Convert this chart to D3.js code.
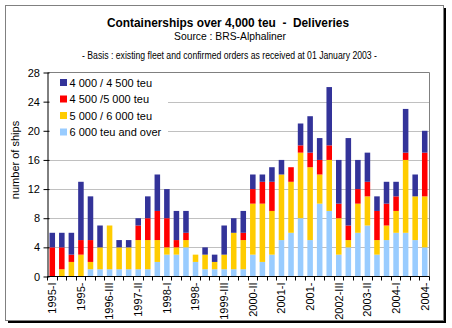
<!DOCTYPE html>
<html><head><meta charset="utf-8">
<script src="https://cdn.jsdelivr.net/npm/d3@7/dist/d3.min.js"></script>
<style>body{margin:0;background:#fff}svg{display:block;font-family:Arial,"Liberation Sans",sans-serif}text{white-space:pre}</style>
</head><body><svg id="c" width="452" height="328"></svg>
<script>
const categories = ["1995-I","1995-II","1995-III","1995-IV","1996-I","1996-II","1996-III","1996-IV",
"1997-I","1997-II","1997-III","1997-IV","1998-I","1998-II","1998-III","1998-IV",
"1999-I","1999-II","1999-III","1999-IV","2000-I","2000-II","2000-III","2000-IV",
"2001-I","2001-II","2001-III","2001-IV","2002-I","2002-II","2002-III","2002-IV",
"2003-I","2003-II","2003-III","2003-IV","2004-I","2004-II","2004-III","2004-IV"];
const tickCategories = ["1995-I","1995-IV","1996-III","1997-II","1998-I","1998-IV","1999-III","2000-II","2001-I","2001-IV","2002-III","2003-II","2004-I","2004-IV"];
const tickLabels = ["1995-I","1995-","1996-III","1997-II","1998-I","1998-","1999-III","2000-II","2001-I","2001-","2002-III","2003-II","2004-I","2004-"];
const seriesNames = ["6 000 teu and over","5 000 / 6 000 teu","4 500 /5 000 teu","4 000 / 4 500 teu"];
const over6000 = [0,0,0,0,1,1,1,1,1,1,1,2,3,3,4,2,1,1,1,1,1,3,2,3,5,6,8,5,10,9,3,4,6,7,3,5,6,6,5,4];
const s5000_6000 = [0,1,2,3,1,3,6,3,3,4,4,3,1,1,1,1,2,1,2,5,4,7,8,6,9,7,9,10,4,7,5,1,4,4,2,2,3,10,6,7];
const s4500_5000 = [4,3,1,2,3,0,0,0,0,2,3,4,4,1,1,0,0,0,0,0,1,2,3,4,0,2,1,2,2,2,2,2,2,2,4,3,2,1,0,6];
const s4000_4500 = [2,2,3,8,6,3,0,1,1,1,3,5,4,4,3,0,1,1,4,2,3,2,1,2,2,0,3,5,3,8,6,12,4,4,2,3,2,6,3,3];
const yTicks = [0,4,8,12,16,20,24,28];
const colors = ["#99CCFF","#FFCC00","#FF0000","#333399"];

const svg = d3.select("#c");
svg.append("rect").attr("x",8).attr("y",8).attr("width",438).attr("height",315).attr("fill","#000");
svg.append("rect").attr("x",5.5).attr("y",5.5).attr("width",438).attr("height",315).attr("fill","#fff").attr("stroke","#808080");

const L=47.5, R=429.5, T=72.5, B=276.5;
const x = d3.scaleBand().domain(categories).range([L,R]).padding(0);
const y = d3.scaleLinear().domain([0,28]).range([B,T]);

svg.append("g").selectAll("line").data(yTicks.filter(v=>v>0&&v<28)).join("line")
  .attr("x1",L).attr("x2",R).attr("y1",d=>Math.round(y(d))+0.5).attr("y2",d=>Math.round(y(d))+0.5)
  .attr("stroke","#C0C0C0");
svg.append("path").attr("d",`M${L},${T}H${R}V${B}`).attr("fill","none").attr("stroke","#808080");

const table = categories.map((c,i)=>({cat:c, s0:over6000[i], s1:s5000_6000[i], s2:s4500_5000[i], s3:s4000_4500[i]}));
const stack = d3.stack().keys(["s0","s1","s2","s3"])(table);
const bw = x.bandwidth()*0.58, off = x.bandwidth()*0.21;
svg.append("g").selectAll("g").data(stack).join("g").attr("fill",(d,i)=>colors[i])
  .selectAll("rect").data(d=>d).join("rect")
  .attr("x",d=>x(d.data.cat)+off).attr("width",bw)
  .attr("y",d=>y(d[1])).attr("height",d=>y(d[0])-y(d[1]));

svg.append("rect").attr("x",L+0.5).attr("y",T+0.5).attr("width",120).attr("height",69).attr("fill","#fff");
const legOrder = [3,2,1,0];
const lg = svg.append("g").selectAll("g").data(legOrder).join("g")
  .attr("transform",(d,i)=>`translate(60,${79+i*16.5})`);
lg.append("rect").attr("width",7).attr("height",7).attr("fill",d=>colors[d]);
lg.append("text").attr("x",9.5).attr("y",7.5).attr("font-size",11).text(d=>seriesNames[d]);

const ya = d3.axisLeft(y).tickValues(yTicks).tickSize(4).tickSizeOuter(0).tickPadding(4);
const gy = svg.append("g").attr("transform",`translate(${L},0)`).call(ya);
gy.select(".domain").attr("stroke","#000");
gy.selectAll(".tick line").attr("x2",2).attr("x1",-4).attr("stroke","#000");
gy.selectAll("text").attr("font-size",11).attr("font-family",'Arial,"Liberation Sans",sans-serif').attr("fill","#000").attr("x",-7.5);

const bounds = categories.map(c=>x(c)).concat([R]);
svg.append("g").selectAll("line").data(bounds).join("line")
  .attr("x1",d=>Math.round(d-0.5)+0.5).attr("x2",d=>Math.round(d-0.5)+0.5).attr("y1",B).attr("y2",B+4).attr("stroke","#000");
svg.append("line").attr("x1",L).attr("x2",R).attr("y1",B).attr("y2",B).attr("stroke","#000");
const xa = d3.axisBottom(x).tickValues(tickCategories).tickSize(0).tickFormat(d=>tickLabels[tickCategories.indexOf(d)]);
const gx = svg.append("g").attr("transform",`translate(0,${B})`).call(xa);
gx.select(".domain").remove();
gx.selectAll("text").attr("font-size",11).attr("font-family",'Arial,"Liberation Sans",sans-serif').attr("fill","#000")
  .attr("transform","rotate(-90)").attr("text-anchor","end").attr("x",-6).attr("y",0).attr("dy","0.35em");

svg.append("text").attr("x",228).attr("y",27).attr("text-anchor","middle").attr("font-size",13).attr("font-weight","bold")
  .attr("textLength",242).attr("lengthAdjust","spacingAndGlyphs").text("Containerships over 4,000 teu  -  Deliveries");
svg.append("text").attr("x",230).attr("y",40).attr("text-anchor","middle").attr("font-size",11)
  .attr("textLength",112).attr("lengthAdjust","spacingAndGlyphs").text("Source : BRS-Alphaliner");
svg.append("text").attr("x",229.5).attr("y",59).attr("text-anchor","middle").attr("font-size",10)
  .attr("textLength",295).attr("lengthAdjust","spacingAndGlyphs").text("- Basis : existing fleet and confirmed orders as received at 01 January 2003 -");
svg.append("text").attr("transform","translate(19,160) rotate(-90)").attr("text-anchor","middle").attr("font-size",11).text("number of ships");
</script></body></html>
